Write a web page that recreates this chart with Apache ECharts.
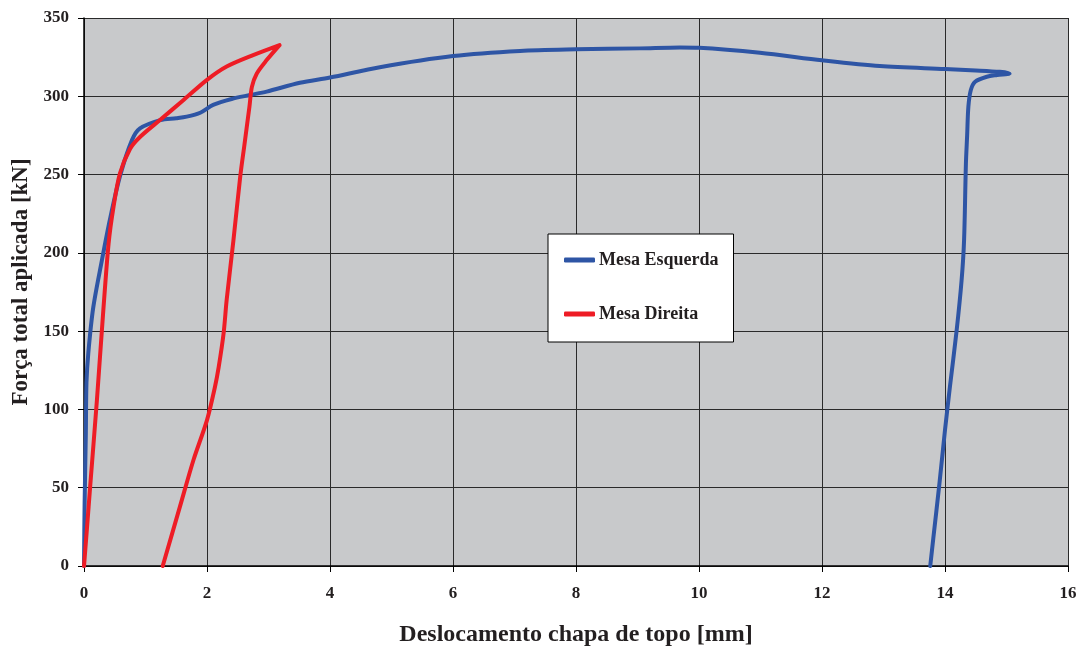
<!DOCTYPE html>
<html><head><meta charset="utf-8">
<script src="https://cdn.jsdelivr.net/npm/echarts@6/dist/echarts.min.js"></script>
<style>html,body{margin:0;padding:0;background:#fff}#c{width:1078px;height:649px}</style>
</head><body><div id="c"></div>
<script>
var seriesNames = ['Mesa Esquerda', 'Mesa Direita'];
var esqX = [0,0.01,0.03,0.04,0.07,0.15,0.29,0.42,0.585,0.78,0.91,1.24,1.5,1.67,1.89,2.1,2.4,2.7,2.97,3.51,4.0,4.81,6.0,7.09,8.0,9.04,9.69,10.0,10.99,12.0,12.94,14.0,14.5,14.89,15.05,14.85,14.68,14.49,14.42,14.38,14.36,14.34,14.31,14.27,14.19,14.08,14.0,13.91,13.81,13.76];
var esqY = [0,40,85,117,136,165,195,221,249,272,279.5,284.8,286,287,289.5,294.5,298.3,300.8,303,308.6,312,318.6,325.7,329,330,330.6,331.2,331,327.8,323,319.3,317.4,316.5,315.6,314.6,313.6,312.5,309.3,304,293.3,275,257,208,182.6,150.7,114.5,86.8,52.8,17.7,0];
var dirX = [0,0.05,0.1,0.21,0.31,0.4,0.48,0.585,0.75,0.91,1.24,1.6,2.0,2.32,2.75,3.18,2.97,2.81,2.73,2.69,2.605,2.54,2.43,2.32,2.27,2.19,2.13,2.0,1.78,1.56,1.28];
var dirY = [0,25,50.6,106,161,206,229.4,250.8,266.5,274,285,297,310.5,319,326.3,332.7,323.1,314.6,306,293.3,268,248.6,208,170,148.6,127,114.5,93.2,67.7,37.9,0];
var xTitle = 'Deslocamento chapa de topo [mm]';
var yTitle = 'Força total aplicada [kN]';

function pairs(xs, ys){ return xs.map(function(x,i){ return [x, ys[i]]; }); }
var font = '"Liberation Serif", "Times New Roman", serif';
var chart = echarts.init(document.getElementById('c'), null, {renderer:'canvas'});
chart.setOption({
  animation:false,
  backgroundColor:'#fff',
  grid:{left:84,right:10,top:18,bottom:83,show:true,backgroundColor:'#C8C9CB',borderWidth:0,
        outerBoundsMode:'none', containLabel:false},
  legend:{
    orient:'vertical', left:548, top:234,
    backgroundColor:'#fff', borderColor:'#000', borderWidth:1,
    padding:[17,15,19,16], itemGap:36, itemWidth:31, itemHeight:5,
    icon:'roundRect',
    textStyle:{fontFamily:font,fontWeight:'bold',fontSize:18,color:'#231f20',padding:[0,0,0,-1]},
    data:seriesNames
  },
  xAxis:{
    type:'value', min:0, max:16, interval:2,
    name:xTitle, nameLocation:'middle', nameGap:57,
    nameTextStyle:{fontFamily:font,fontWeight:'bold',fontSize:24,color:'#231f20'},
    axisLine:{show:true,lineStyle:{color:'#000',width:1.5}},
    axisTick:{show:true,length:6,lineStyle:{color:'#000'}},
    axisLabel:{fontFamily:font,fontWeight:'bold',fontSize:17,color:'#231f20',margin:19},
    splitLine:{show:true,lineStyle:{color:'#2a2a2a',width:1}}
  },
  yAxis:{
    type:'value', min:0, max:350, interval:50,
    name:yTitle, nameLocation:'middle', nameGap:50,
    nameTextStyle:{fontFamily:font,fontWeight:'bold',fontSize:23,color:'#231f20',padding:[0,0,0,20]},
    axisLine:{show:true,lineStyle:{color:'#000',width:1.5}},
    axisTick:{show:true,length:6,lineStyle:{color:'#000'}},
    axisLabel:{fontFamily:font,fontWeight:'bold',fontSize:17,color:'#231f20',margin:15},
    splitLine:{show:true,lineStyle:{color:'#2a2a2a',width:1}}
  },
  series:[
    {name:seriesNames[0],type:'line',data:pairs(esqX,esqY),showSymbol:false,smooth:0.3,
     lineStyle:{color:'#2E55A5',width:4,cap:'round',join:'round'},itemStyle:{color:'#2E55A5'}},
    {name:seriesNames[1],type:'line',data:pairs(dirX,dirY),showSymbol:false,smooth:0.3,
     lineStyle:{color:'#EE1C25',width:4,cap:'round',join:'round'},itemStyle:{color:'#EE1C25'}}
  ]
});
</script></body></html>
